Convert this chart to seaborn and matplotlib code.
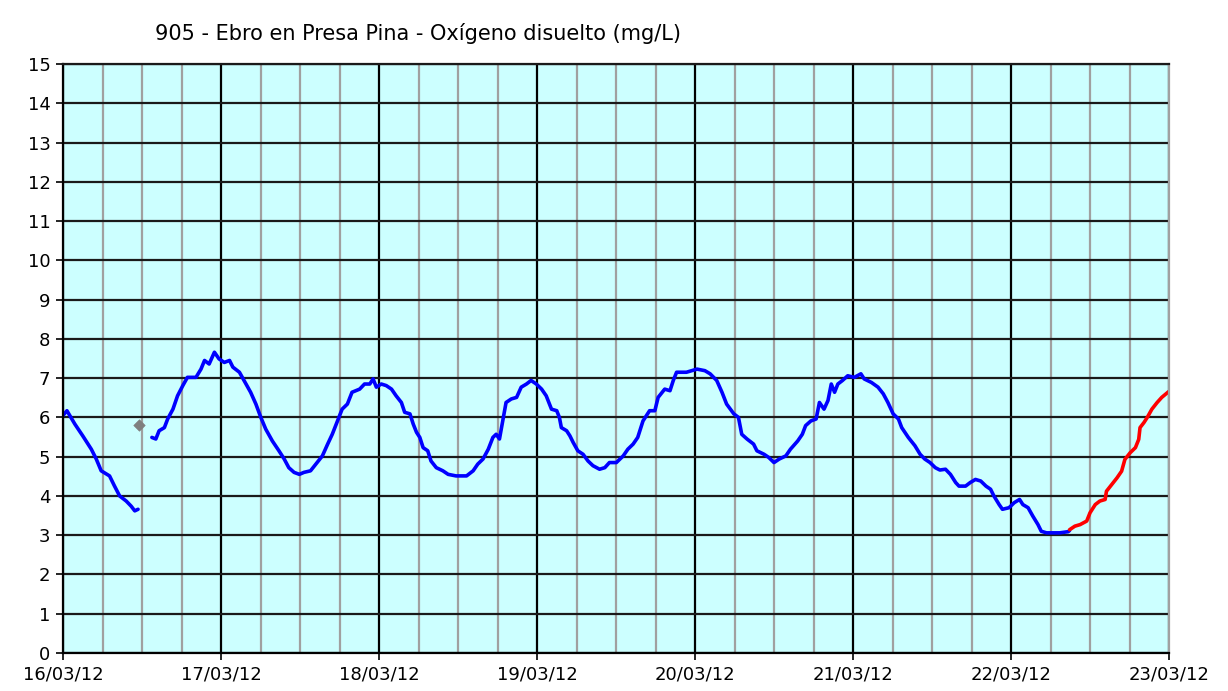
import numpy as np
import pandas as pd
import matplotlib
matplotlib.use("Agg")
import matplotlib.pyplot as plt
import matplotlib.dates as mdates
import seaborn as sns

# ---- data (hours since 16/03/12 00:00, dissolved oxygen mg/L) ----
start = "2012-03-16"
seg1_hours = [0.0, 0.6, 1.8, 3.0, 4.3, 5.05, 5.8, 7.07, 7.8, 8.6, 9.6, 10.35, 10.9, 11.4]
seg1_vals = [6.05, 6.17, 5.83, 5.53, 5.19, 4.94, 4.64, 4.51, 4.26, 4.0, 3.87, 3.74, 3.62, 3.66]

gray_hours = [11.6]
gray_vals = [5.8]

seg2_hours = [13.5, 14.1, 14.6, 15.4, 15.9, 16.7, 17.4, 18.2, 18.9, 20.2, 20.96, 21.5, 22.2, 23.0,
              23.7, 24.5, 25.3, 25.8, 26.8, 27.5, 28.5, 29.3, 30.05, 30.8, 31.8, 32.8, 33.6, 34.3,
              35.1, 35.9, 36.6, 37.6, 38.4, 39.4, 40.2, 40.9, 41.7, 42.4, 43.2, 43.9, 45.06, 45.8,
              46.6, 47.1, 47.6, 48.35, 49.1, 49.9, 50.6, 51.4, 51.9, 52.7, 53.2, 53.7, 54.2, 54.7,
              55.4, 55.9, 56.7, 57.7, 58.5, 59.7, 61.3, 62.3, 63.0, 63.8, 64.6, 65.3, 65.8, 66.3,
              66.8, 67.3, 68.1, 68.9, 69.6, 70.4, 71.1, 71.9, 72.7, 73.4, 74.2, 75.0, 75.4, 75.7,
              76.5, 77.0, 77.5, 78.2, 79.0, 79.75, 80.5, 81.5, 82.3, 83.0, 84.05, 85.1, 85.8, 86.6,
              87.3, 88.1, 89.1, 89.9, 90.4, 91.4, 92.2, 92.7, 93.2, 93.7, 94.7, 95.5, 96.3, 97.5,
              98.3, 99.3, 100.1, 100.8, 101.9, 102.6, 103.1, 103.9, 104.9, 105.4, 106.5, 107.2,
              108.0, 108.8, 109.8, 110.5, 111.6, 112.3, 112.8, 113.6, 114.4, 114.9, 115.6, 116.2,
              116.7, 117.2, 117.7, 118.4, 119.2, 120.2, 121.2, 121.7, 122.8, 123.8, 124.6, 125.3,
              126.1, 126.9, 127.4, 128.4, 129.4, 130.2, 130.9, 131.7, 132.5, 133.2, 134.05, 134.8,
              135.6, 136.1, 137.1, 137.8, 138.6, 139.4, 140.2, 140.9, 141.4, 142.2, 142.7, 143.7,
              144.5, 145.3, 145.8, 146.6, 147.3, 148.1, 148.6, 149.4, 150.4, 151.4, 152.7, 152.9]
seg2_vals = [5.49, 5.45, 5.66, 5.74, 5.96, 6.21, 6.55, 6.81, 7.02, 7.02, 7.23, 7.45, 7.36, 7.66,
             7.49, 7.40, 7.45, 7.28, 7.15, 6.94, 6.64, 6.34, 6.0, 5.70, 5.40, 5.15, 4.94, 4.72,
             4.60, 4.55, 4.60, 4.64, 4.81, 5.02, 5.32, 5.57, 5.91, 6.21, 6.34, 6.64, 6.72, 6.85,
             6.85, 6.98, 6.77, 6.85, 6.81, 6.72, 6.55, 6.38, 6.13, 6.09, 5.83, 5.62, 5.49, 5.23,
             5.15, 4.89, 4.72, 4.64, 4.55, 4.51, 4.51, 4.64, 4.81, 4.94, 5.19, 5.49, 5.57, 5.45,
             5.91, 6.38, 6.47, 6.51, 6.77, 6.85, 6.94, 6.85, 6.72, 6.55, 6.21, 6.17, 6.0, 5.74,
             5.66, 5.53, 5.36, 5.15, 5.06, 4.89, 4.77, 4.68, 4.72, 4.85, 4.85, 5.02, 5.19, 5.32,
             5.49, 5.91, 6.17, 6.17, 6.51, 6.72, 6.68, 6.94, 7.15, 7.15, 7.15, 7.19, 7.23, 7.19,
             7.11, 6.94, 6.64, 6.34, 6.09, 6.0, 5.57, 5.45, 5.32, 5.15, 5.06, 4.98,
             4.85, 4.94, 5.02, 5.19, 5.40, 5.57, 5.79, 5.91, 5.96, 6.38, 6.21, 6.43,
             6.85, 6.64, 6.85, 6.94, 7.06, 7.02, 7.11, 6.98, 6.89, 6.77, 6.60, 6.38,
             6.09, 5.96, 5.74, 5.49, 5.28, 5.06, 4.94, 4.85, 4.72, 4.66, 4.68, 4.55,
             4.34, 4.25, 4.25, 4.34, 4.42, 4.38, 4.25, 4.17, 4.0, 3.78, 3.66, 3.70,
             3.83, 3.91, 3.78, 3.70, 3.49, 3.27, 3.10, 3.06, 3.06, 3.06, 3.09, 3.12]

red_hours = [152.9, 153.7, 154.5, 155.5, 156.0, 156.8, 157.5, 158.3, 158.5, 159.3, 160.1, 160.8,
             161.3, 162.1, 162.9, 163.4, 163.6, 164.2, 164.7, 165.4, 166.2, 166.9, 167.9, 168.0]
red_vals = [3.14, 3.23, 3.27, 3.36, 3.57, 3.78, 3.87, 3.91, 4.12, 4.29, 4.46, 4.63,
            4.93, 5.10, 5.23, 5.44, 5.74, 5.87, 6.0, 6.21, 6.38, 6.51, 6.65, 6.66]

title = "905 - Ebro en Presa Pina - Oxígeno disuelto (mg/L)"
y_ticks = list(range(0, 16))


def frame(hours, vals):
    t0 = pd.Timestamp(start)
    return pd.DataFrame({"time": t0 + pd.to_timedelta(hours, unit="h"), "value": vals})


sns.set_theme(style="white")
plt.rcParams["font.family"] = ["DejaVu Sans"]

fig = plt.figure(figsize=(12.28, 6.91), dpi=100)
ax = fig.add_axes([63 / 1228, 1 - 653 / 691, (1169 - 63) / 1228, (653 - 64) / 691])
ax.set_facecolor("#CCFFFF")

lw = 2.6
sns.lineplot(data=frame(seg1_hours, seg1_vals), x="time", y="value", ax=ax,
             color="#0000FF", linewidth=lw, estimator=None)
sns.lineplot(data=frame(seg2_hours, seg2_vals), x="time", y="value", ax=ax,
             color="#0000FF", linewidth=lw, estimator=None)
sns.lineplot(data=frame(red_hours, red_vals), x="time", y="value", ax=ax,
             color="#FF0000", linewidth=lw, estimator=None)
sns.scatterplot(data=frame(gray_hours, gray_vals), x="time", y="value", ax=ax,
                color="#7f7f7f", marker="D", s=34, edgecolor="#7f7f7f", zorder=5)

t0 = pd.Timestamp(start)
ax.set_xlim(t0, t0 + pd.Timedelta(days=7))
ax.set_ylim(0, 15)
ax.set_yticks(y_ticks)
ax.set_yticklabels([str(v) for v in y_ticks])

ax.xaxis.set_major_locator(mdates.DayLocator())
ax.xaxis.set_major_formatter(mdates.DateFormatter("%d/%m/%y"))
ax.xaxis.set_minor_locator(mdates.HourLocator(byhour=[6, 12, 18]))

ax.grid(which="major", axis="y", color="#1a1a1a", linewidth=1.6)
ax.grid(which="major", axis="x", color="#000000", linewidth=1.6)
ax.grid(which="minor", axis="x", color="#a0a0a0", linewidth=1.6)
ax.set_axisbelow(True)

ax.tick_params(axis="both", which="major", direction="out", length=5, width=1.2,
               color="black", labelsize=13, labelcolor="black", bottom=True, left=True, pad=4)
ax.tick_params(axis="x", which="minor", length=0)

for side in ["left", "bottom"]:
    ax.spines[side].set_color("black")
    ax.spines[side].set_linewidth(1.6)
ax.spines["top"].set_color("#1a1a1a")
ax.spines["top"].set_linewidth(1.6)
ax.spines["right"].set_color("#a0a0a0")
ax.spines["right"].set_linewidth(1.6)

ax.set_xlabel("")
ax.set_ylabel("")

fig.text(155 / 1228, 1 - 33 / 691, title, ha="left", va="center", fontsize=15, color="black")

fig.savefig("out.png", dpi=100, facecolor="white")
